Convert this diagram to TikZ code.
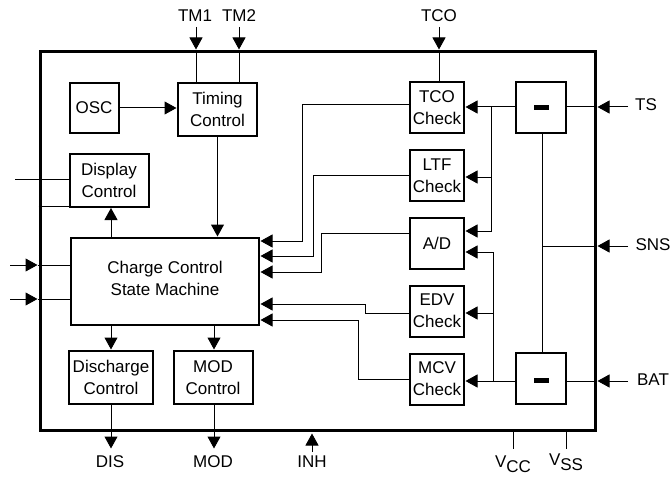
\documentclass[tikz,border=0pt]{standalone}
\usepackage{fontspec}
\setmainfont{Liberation Sans}
\usetikzlibrary{arrows.meta}

\tikzset{
    block/.style={
        draw,
        line width=2pt,
        fill=white,
        align=center,
        inner sep=0pt,     % Text is narrower than most boxes anyway
        font=\fontsize{17}{22}\selectfont
    },
    pinlabel/.style={font=\fontsize{17}{20}\selectfont, inner sep=0pt},
    wire/.style={line width=1pt},
    feed/.style={wire, -{Triangle[length=12pt,width=13pt]}, shorten >=0.5pt}
}

\begin{document}
\begin{tikzpicture}[x=1pt,y=-1pt]
\useasboundingbox (0,0) rectangle (671,476);

% Package outline
\node[draw, line width=3pt, minimum width=555pt, minimum height=378pt] (chip) at (317.5,241) {};

% Left column
\node[block, minimum width=49pt, minimum height=50pt] (osc) at (94,108) {OSC};
\node[block, minimum width=79pt, minimum height=53pt] (timing) at (217.5,109.5) {Timing\\Control};
\node[block, minimum width=79pt, minimum height=53pt] (display) at (109,180) {Display\\Control};
\node[block, minimum width=188pt, minimum height=87pt] (charge) at (165,281.5) {Charge Control\\State Machine\\[-15pt]\mbox{}};
\node[block, minimum width=84pt, minimum height=53pt] (discharge) at (111,377.5) {Discharge\\Control};
\node[block, minimum width=79pt, minimum height=53pt] (modctl) at (213,377.5) {MOD\\Control};

% Check column
\node[block, minimum width=54pt, minimum height=51pt] (tcocheck) at (437,107.5) {TCO\\Check};
\node[block, minimum width=54pt, minimum height=51pt] (ltfcheck) at (437,175.5) {LTF\\Check};
\node[block, minimum width=54pt, minimum height=51pt] (adc) at (437,243.5) {A/D};
\node[block, minimum width=54pt, minimum height=51pt] (edvcheck) at (437,311) {EDV\\Check};
\node[block, minimum width=54pt, minimum height=51pt] (mcvcheck) at (437,379) {MCV\\Check};

% Comparators
\node[block, minimum width=50pt, minimum height=51pt] (tscomp) at (541,107.5) {};
\node[block, minimum width=50pt, minimum height=51pt] (batcomp) at (541,378) {};
\node[fill=black, inner sep=0pt, minimum width=15pt, minimum height=5pt] (tsbar) at (541,107.5) {};
\node[fill=black, inner sep=0pt, minimum width=15pt, minimum height=5pt] (batbar) at (541,380) {};

% Pin names
\node[pinlabel] (tmone) at (195,16) {TM1};
\node[pinlabel] (tmtwo) at (239,16) {TM2};
\node[pinlabel] (tco) at (439,16) {TCO};
\node[pinlabel] (ts) at (646,105) {TS};
\node[pinlabel] (sns) at (653,245) {SNS};
\node[pinlabel] (bat) at (653,380) {BAT};
\node[pinlabel] (dis) at (110,462) {DIS};
\node[pinlabel] (mod) at (213,462) {MOD};
\node[pinlabel] (inh) at (312,462) {INH};
\node[pinlabel] (vcc) at (513,464) {V\raisebox{-5pt}{CC}};
\node[pinlabel] (vss) at (566,462) {V\raisebox{-5pt}{SS}};

% Free wire ends
\coordinate (displayin) at (15,179);
\coordinate (leftone) at (10,265);
\coordinate (lefttwo) at (10,299);

% Pins along the top
\draw[feed] (196,27) -- (196,50);
\draw[feed] (239,27) -- (239,50);
\draw[feed] (439,27) -- (439,50);
\draw[wire] (196,50) -- (timing.north -| 196,0);
\draw[wire] (239,50) -- (timing.north -| 239,0);
\draw[wire] (439,50) -- (tcocheck.north -| 439,0);

% Internal control flow
\draw[feed] (osc.east) -- (timing.west |- osc.east);
\draw[feed] (timing.south) -- (charge.north -| timing.south);
\draw[feed] (charge.north -| 111,0) -- (display.south -| 111,0);
\draw[feed] (charge.south -| discharge.north) -- (discharge.north);
\draw[feed] (charge.south -| 214,0) -- (modctl.north -| 214,0);
\draw[feed] (discharge.south) -- (111,449);
\draw[feed] (modctl.south -| 214,0) -- (214,449);

% Left side
\draw[wire] (displayin) -- (display.west |- displayin);
\draw[wire] (chip.west |- 0,206) -- (display.west |- 0,206);
\draw[feed] (leftone) -- (38,265);
\draw[feed] (lefttwo) -- (38,299);
\draw[wire] (38,265) -- (charge.west |- leftone);
\draw[wire] (38,299) -- (charge.west |- lefttwo);

% Checks back to the state machine
\draw[feed] (tcocheck.west |- 0,105) -| (302,241) -- (charge.east |- 0,241);
\draw[feed] (ltfcheck.west |- 0,175) -| (313,256) -- (charge.east |- 0,256);
\draw[feed] (adc.west |- 0,233) -| (321.5,272) -- (charge.east |- 0,272);
\draw[feed] (edvcheck.west |- 0,313) -| (365,304) -- (charge.east |- 0,304);
\draw[feed] (mcvcheck.west |- 0,379) -| (358,320) -- (charge.east |- 0,320);

% Comparator outputs
\draw[feed] (tscomp.west |- 0,107) -- (tcocheck.east |- 0,107);
\draw[feed] (491,107) |- (ltfcheck.east |- 0,177);
\draw[feed] (491,177) |- (adc.east |- 0,231);
\draw[feed] (batcomp.west |- 0,381) -- (mcvcheck.east |- 0,381);
\draw[feed] (493,381) |- (edvcheck.east |- 0,313);
\draw[feed] (493,313) |- (adc.east |- 0,252);

% Pins on the right
\draw[wire] (tscomp.south -| 542,0) -- (batcomp.north -| 542,0);
\draw[feed] (628,107) -- (597,107);
\draw[feed] (628,246) -- (597,246);
\draw[feed] (628,381) -- (597,381);
\draw[wire] (597,107) -- (tscomp.east |- 0,107);
\draw[wire] (597,246) -- (542,246);
\draw[wire] (597,381) -- (batcomp.east |- 0,381);

% Pins along the bottom
\draw[feed] (312,452) -- (312,433);
\draw[wire] (chip.south -| 513,0) -- (513,449);
\draw[wire] (chip.south -| 566,0) -- (566,449);
\end{tikzpicture}
\end{document}
